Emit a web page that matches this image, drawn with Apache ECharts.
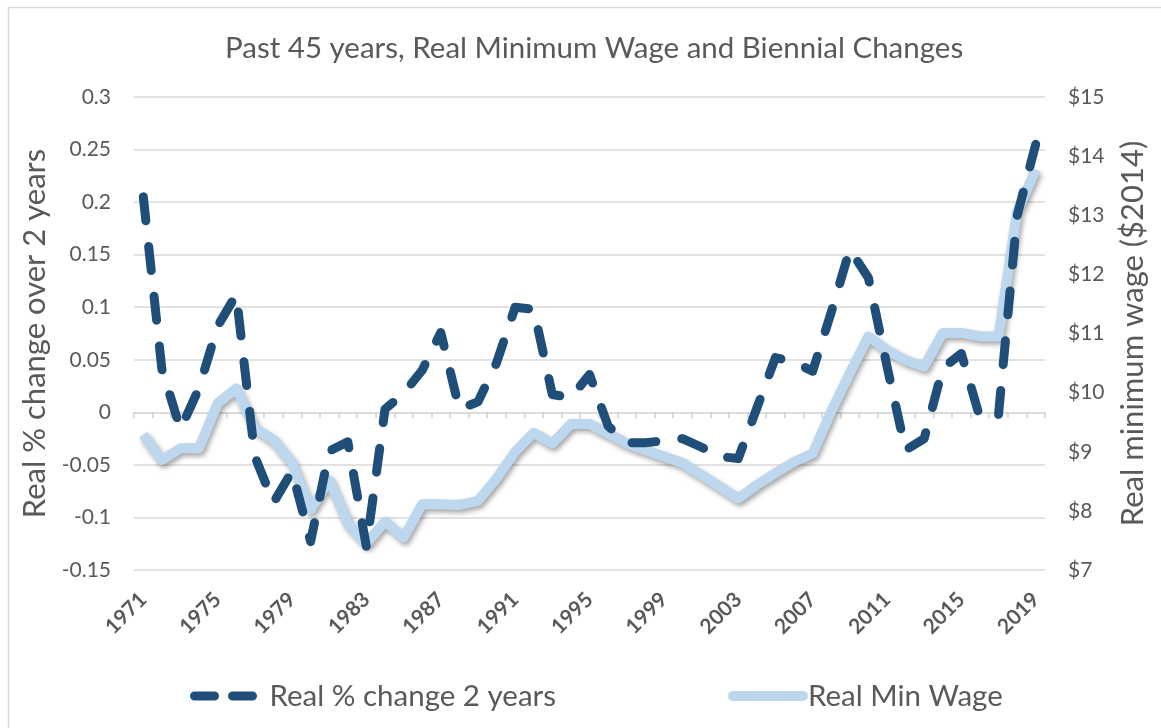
<!DOCTYPE html>
<html>
<head>
<meta charset="utf-8">
<title>Real Minimum Wage</title>
<script src="https://cdn.jsdelivr.net/npm/echarts@6/dist/echarts.min.js"></script>
<style>
  html, body { margin: 0; padding: 0; background: #fff; }
  #chart { width: 1161px; height: 728px; }
</style>
</head>
<body>
<div id="chart"></div>
<script>
var years = [];
for (var y = 1971; y <= 2019; y++) years.push(String(y));

// real % change over 2 years (left axis)
var pctChange = [
  0.205, 0.041, -0.016, 0.023, 0.082, 0.112, -0.042, -0.086, -0.056, -0.123,
  -0.037, -0.028, -0.128, 0.003, 0.018, 0.040, 0.076, 0.003, 0.010, 0.047,
  0.100, 0.098, 0.017, 0.014, 0.036, -0.013, -0.029, -0.029, -0.027, -0.025,
  -0.033, -0.042, -0.044, 0.004, 0.052, 0.048, 0.039, 0.095, 0.155, 0.128,
  0.044, -0.036, -0.025, 0.042, 0.056, -0.005, -0.002, 0.187, 0.255
];

// real minimum wage in $2014 (right axis)
var minWage = [
  9.29, 8.86, 9.06, 9.06, 9.82, 10.07, 9.40, 9.20, 8.81, 8.02,
  8.52, 7.79, 7.45, 7.82, 7.55, 8.11, 8.11, 8.10, 8.17, 8.55,
  9.00, 9.32, 9.14, 9.47, 9.47, 9.31, 9.14, 9.03, 8.92, 8.81,
  8.61, 8.41, 8.21, 8.44, 8.64, 8.83, 8.97, 9.68, 10.33, 10.95,
  10.72, 10.55, 10.44, 11.01, 11.01, 10.95, 10.95, 13.06, 13.77
];

var FONT = 'Lato, "Open Sans", sans-serif';
var TEXT = '#595959';
var GRID = '#d9d9d9';
var DARK = '#1f4e79';
var LIGHT = '#bdd7ee';

var myChart = echarts.init(document.getElementById('chart'));

var option = {
  backgroundColor: '#fff',
  textStyle: { fontFamily: FONT, color: TEXT },
  graphic: [{
    type: 'rect',
    shape: { x: 8.5, y: 7.5, width: 1200, height: 800 },
    style: { fill: 'none', stroke: GRID, lineWidth: 1.5 },
    silent: true
  }],
  title: {
    text: 'Past 45 years, Real Minimum Wage and Biennial Changes',
    left: 220,
    top: 28,
    textStyle: { fontFamily: FONT, fontSize: 29.5, fontWeight: 'normal', color: TEXT }
  },
  legend: {
    orient: 'horizontal',
    bottom: 12,
    left: 185,
    itemWidth: 70,
    itemHeight: 12,
    itemGap: 172,
    itemStyle: { opacity: 0 },
    textStyle: { fontFamily: FONT, fontSize: 29.5, color: TEXT },
    data: [
      {
        name: 'Real % change 2 years',
        lineStyle: { color: DARK, width: 9, type: [20, 18], cap: 'round' }
      },
      {
        name: 'Real Min Wage',
        lineStyle: { color: LIGHT, width: 10, type: 'solid', cap: 'round' }
      }
    ]
  },
  grid: { left: 134, right: 116, top: 97, bottom: 158 },
  xAxis: [
    {
      // axis line with ticks sitting on the zero line
      type: 'category',
      data: years,
      boundaryGap: true,
      position: 'bottom',
      offset: -157.7,
      axisLine: { onZero: false, lineStyle: { color: GRID, width: 1.5 } },
      axisTick: { show: true, interval: 0, length: 6, lineStyle: { color: '#cfcfcf', width: 1.5 } },
      axisLabel: { show: false },
      splitLine: { show: false }
    },
    {
      // year labels below the plot
      type: 'category',
      data: years,
      position: 'bottom',
      boundaryGap: true,
      axisLine: { show: false },
      axisTick: { show: false },
      axisLabel: {
        interval: 3,
        rotate: 45,
        margin: 26,
        fontFamily: FONT,
        fontSize: 21,
        fontWeight: 'bold',
        color: TEXT
      }
    }
  ],
  yAxis: [
    {
      type: 'value',
      min: -0.15,
      max: 0.3,
      interval: 0.05,
      name: 'Real % change over 2 years',
      nameLocation: 'middle',
      nameGap: 82,
      nameTextStyle: { fontFamily: FONT, fontSize: 31, color: TEXT },
      axisLine: { show: false },
      axisTick: { show: false },
      axisLabel: { margin: 23, fontFamily: FONT, fontSize: 21, color: TEXT },
      splitLine: { lineStyle: { color: GRID, width: 1.5 } }
    },
    {
      type: 'value',
      min: 7,
      max: 15,
      interval: 1,
      position: 'right',
      name: 'Real minimum wage ($2014)',
      nameLocation: 'middle',
      nameGap: 72,
      nameTextStyle: { fontFamily: FONT, fontSize: 31, color: TEXT },
      axisLine: { show: false },
      axisTick: { show: false },
      axisLabel: { margin: 23, fontFamily: FONT, fontSize: 21, color: TEXT, formatter: '${value}' },
      splitLine: { show: false }
    }
  ],
  series: [
    {
      name: 'Real Min Wage',
      type: 'line',
      xAxisIndex: 0,
      yAxisIndex: 1,
      data: minWage,
      symbol: 'none',
      itemStyle: { color: LIGHT },
      lineStyle: {
        color: LIGHT,
        width: 10,
        join: 'round',
        shadowColor: 'rgba(0,0,0,0.35)',
        shadowBlur: 5,
        shadowOffsetX: 2,
        shadowOffsetY: 3
      },
      z: 2
    },
    {
      name: 'Real % change 2 years',
      type: 'line',
      xAxisIndex: 0,
      yAxisIndex: 0,
      data: pctChange,
      symbol: 'none',
      itemStyle: { color: DARK },
      lineStyle: {
        color: DARK,
        width: 9,
        type: [24, 26],
        cap: 'round',
        join: 'round'
      },
      z: 3
    }
  ]
};

myChart.setOption(option);
</script>
</body>
</html>
